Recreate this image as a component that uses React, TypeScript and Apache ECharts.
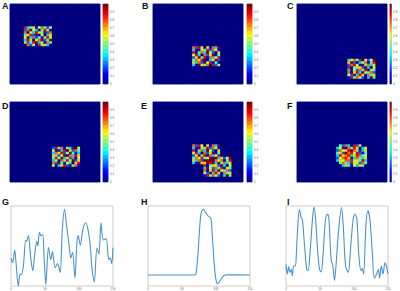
import React, { useEffect, useRef } from "react";
import * as echarts from "echarts";

const GRID_CELLS = 32;
const jetColors = ["#00007f", "#0000ff", "#007fff", "#00ffff", "#7fff7f", "#ffff00", "#ff7f00", "#ff0000", "#7f0000"];
const panelLetters = ["A", "B", "C", "D", "E", "F", "G", "H", "I"];
const colorbarTicks = ["0", "0.1", "0.2", "0.3", "0.4", "0.5", "0.6", "0.7", "0.8", "0.9"];
const lineTicks = [0, 50, 100, 150];

// Cell intensities (0-9 = tenths of the ninth) per stimulated block, rows top to bottom
const blockA = ["8346157425", "2795304861", "7153864927", "4682915036", "5937241685", "3861579249", "6248936174", "0725184630"];
const blockB = ["7285061739", "3916482751", "8147395206", "5830726914", "2694817358", "4758103692", "6372958140", "3196470825"];
const blockC = ["3574816259", "6920357148", "2785194736", "8146629305", "3952748164", "7168395472", "5293861746", "1847520394"];
const blockD = ["2847163905", "5193806274", "3768259413", "6425917386", "4859362715", "3617485926", "7294153068", "5036829471"];
const blockF = [
  "04273082600",
  "35917486135",
  "27568974936",
  "46297858214",
  "38678368745",
  "25786937436",
  "36577265483",
  "04743856274",
  "00364153640",
];
const panelBlocks = [
  [{ rows: blockA, col: 5, row: 9 }],
  [{ rows: blockB, col: 14, row: 17 }],
  [{ rows: blockC, col: 18, row: 22 }],
  [{ rows: blockD, col: 15, row: 18 }],
  [{ rows: blockB, col: 14, row: 17 }, { rows: blockC, col: 18, row: 22 }],
  [{ rows: blockF, col: 14, row: 17 }],
];

const xG = [0, 2.5, 5.4, 7.4, 10.8, 13.3, 15.2, 18.2, 21.6, 23.1, 25.6, 29, 32, 34.9, 37.9, 39.4, 41.8, 44.3, 46.7, 48.7, 51.2, 55.1, 58.5, 61, 64.9, 68.4, 72.3, 75.3, 78.7, 82.1, 85.6, 88, 90.5, 94, 96.9, 98.9, 101.8, 105.8, 109.7, 113.1, 116.6, 119, 122.5, 126.4, 129.4, 132.3, 135.8, 140.2, 143.6, 146.1, 148, 150];
const yG = [35, 29, 45, 29, 0, 15, 14, 25, 57, 56, 63, 35, 19, 40, 56, 50, 67, 62.5, 64.6, 35, 2, 48, 33, 43, 23, 28, 17, 69, 96, 73, 50, 35, 42, 10, 54, 63, 51, 71, 79, 71, 50, 23, 5, 47, 40, 79, 57.5, 59, 33, 35, 28, 48];
const xH = [0, 30, 68.9, 70.8, 73.8, 76.7, 78.7, 81.2, 84.6, 88.5, 92.5, 94.4, 97.4, 99.9, 102.3, 105.8, 110.7, 118, 150];
const yH = [13.8, 13.8, 13.8, 16.7, 43.8, 81, 93, 96, 92, 87.5, 84.6, 64.6, 27, 8.3, 3, 6, 12.5, 14, 13.8];
const xI = [0, 2, 3.9, 5.9, 7.9, 9.3, 11.3, 13.8, 15.2, 17.2, 19.7, 22.1, 24.1, 27.5, 30.5, 32.5, 35.9, 38.9, 41.3, 43.8, 46.2, 49.2, 51.6, 54.6, 58, 61, 63, 66.4, 68.9, 71.3, 74.3, 77.7, 81.7, 84.1, 87.6, 91.5, 95.4, 98.4, 101.3, 104.3, 107.2, 110.2, 112.1, 114.1, 117.6, 120.5, 123.5, 126.9, 129.9, 133.3, 135.8, 137.7, 140.2, 142.6, 145.6, 147.6, 150];
const yI = [27, 15, 24, 17, 21, 12.5, 25, 25, 40, 73, 96, 86, 83, 48, 21, 19, 48, 83, 99, 81, 48, 21, 17.5, 40, 83, 90, 85, 33, 25, 7, 35, 73, 98, 77, 25, 17, 52, 81, 90, 83, 37.5, 19, 22, 15, 77, 94, 83, 42, 10, 15, 21, 10, 25, 15, 29, 25, 15];

function cellsFor(blocks: { rows: string[]; col: number; row: number }[]) {
  const out: number[][] = [];
  for (let c = 0; c < GRID_CELLS; c++) for (let r = 0; r < GRID_CELLS; r++) {
    let v = 0;
    for (const b of blocks) {
      const line = b.rows[r - b.row];
      if (line && line[c - b.col] !== undefined) v += Number(line[c - b.col]) / 9;
    }
    out.push([c, r, Math.min(v, 1)]);
  }
  return out;
}

export default function App() {
  const ref = useRef<HTMLDivElement>(null);
  useEffect(() => {
    const chart = echarts.init(ref.current!, undefined, { renderer: "svg" });
    const heatLefts = [10, 153, 297];
    const barLefts = [103, 247, 390];
    const heatTops = [4, 102];
    const lineLefts = [11, 148, 286];
    const grid: any[] = [];
    const xAxis: any[] = [];
    const yAxis: any[] = [];
    const series: any[] = [];
    const cells = Array.from({ length: GRID_CELLS }, (_, i) => i);
    const levels = Array.from({ length: 100 }, (_, i) => String(i));
    const heatIdx: number[] = [];
    panelBlocks.forEach((blocks, p) => {
      const left = heatLefts[p % 3];
      const top = heatTops[p < 3 ? 0 : 1];
      let g = grid.length;
      grid.push({ show: true, left, top, width: 90, height: 80, backgroundColor: jetColors[0], borderColor: "#8c8cdc", borderWidth: 1 });
      xAxis.push({ type: "category", gridIndex: g, data: cells, show: false });
      yAxis.push({ type: "category", gridIndex: g, data: cells, inverse: true, show: false });
      heatIdx.push(series.length);
      series.push({ type: "heatmap", xAxisIndex: g, yAxisIndex: g, data: cellsFor(blocks), itemStyle: { borderWidth: 0 } });

      g = grid.length;
      grid.push({ show: true, left: barLefts[p % 3], top, width: 5, height: 80, backgroundColor: jetColors[0], borderColor: "#a8a8e0", borderWidth: 0.5 });
      xAxis.push({ type: "category", gridIndex: g, data: ["c"], show: false });
      yAxis.push({
        type: "category", gridIndex: g, data: levels, position: "right",
        axisLine: { show: false }, axisTick: { show: false },
        axisLabel: { show: true, interval: 9, fontSize: 3, color: "#666", margin: 2, fontFamily: "Liberation Sans",
          formatter: (v: string) => colorbarTicks[Number(v) / 10] ?? "" },
      });
      heatIdx.push(series.length);
      series.push({ type: "heatmap", xAxisIndex: g, yAxisIndex: g, data: levels.map((l, i) => [0, i, i / 99]), itemStyle: { borderWidth: 0 } });
    });
    [[xG, yG], [xH, yH], [xI, yI]].forEach(([xs, ys], p) => {
      const g = grid.length;
      grid.push({ show: true, left: lineLefts[p], top: 206, width: 102, height: 80, backgroundColor: "#fff", borderColor: "#cfcac4", borderWidth: 1 });
      xAxis.push({
        type: "value", gridIndex: g, min: 0, max: 150, interval: 50,
        axisLine: { show: false }, splitLine: { show: false },
        axisTick: { show: true, length: 1, lineStyle: { color: "#bbb", width: 0.5 } },
        axisLabel: { show: true, fontSize: 3, color: "#666", margin: 1, fontFamily: "Liberation Sans",
          formatter: (v: number) => (lineTicks.includes(v) ? String(v) : "") },
      });
      yAxis.push({ type: "value", gridIndex: g, min: 0, max: 100, show: false });
      series.push({ type: "line", xAxisIndex: g, yAxisIndex: g, showSymbol: false, smooth: 0.3,
        data: xs.map((x, i) => [x, ys[i]]), lineStyle: { color: "#4a93c8", width: 1.1 } });
    });
    const letterPos = [[2, 1], [142, 1], [287, 1], [2, 101], [141, 101], [287, 101], [2, 197], [141, 197], [287, 197]];
    chart.setOption({
      animation: false,
      backgroundColor: "#fff",
      grid, xAxis, yAxis, series,
      visualMap: { show: false, min: 0, max: 1, dimension: 2, seriesIndex: heatIdx, inRange: { color: jetColors } },
      graphic: panelLetters.map((t, i) => ({
        type: "text", x: letterPos[i][0], y: letterPos[i][1],
        style: { text: t, font: "bold 9px 'Liberation Sans'", fill: "#111" },
      })),
    });
    return () => chart.dispose();
  }, []);
  return <div ref={ref} style={{ position: "fixed", left: 0, top: 0, width: 400, height: 291 }} />;
}
